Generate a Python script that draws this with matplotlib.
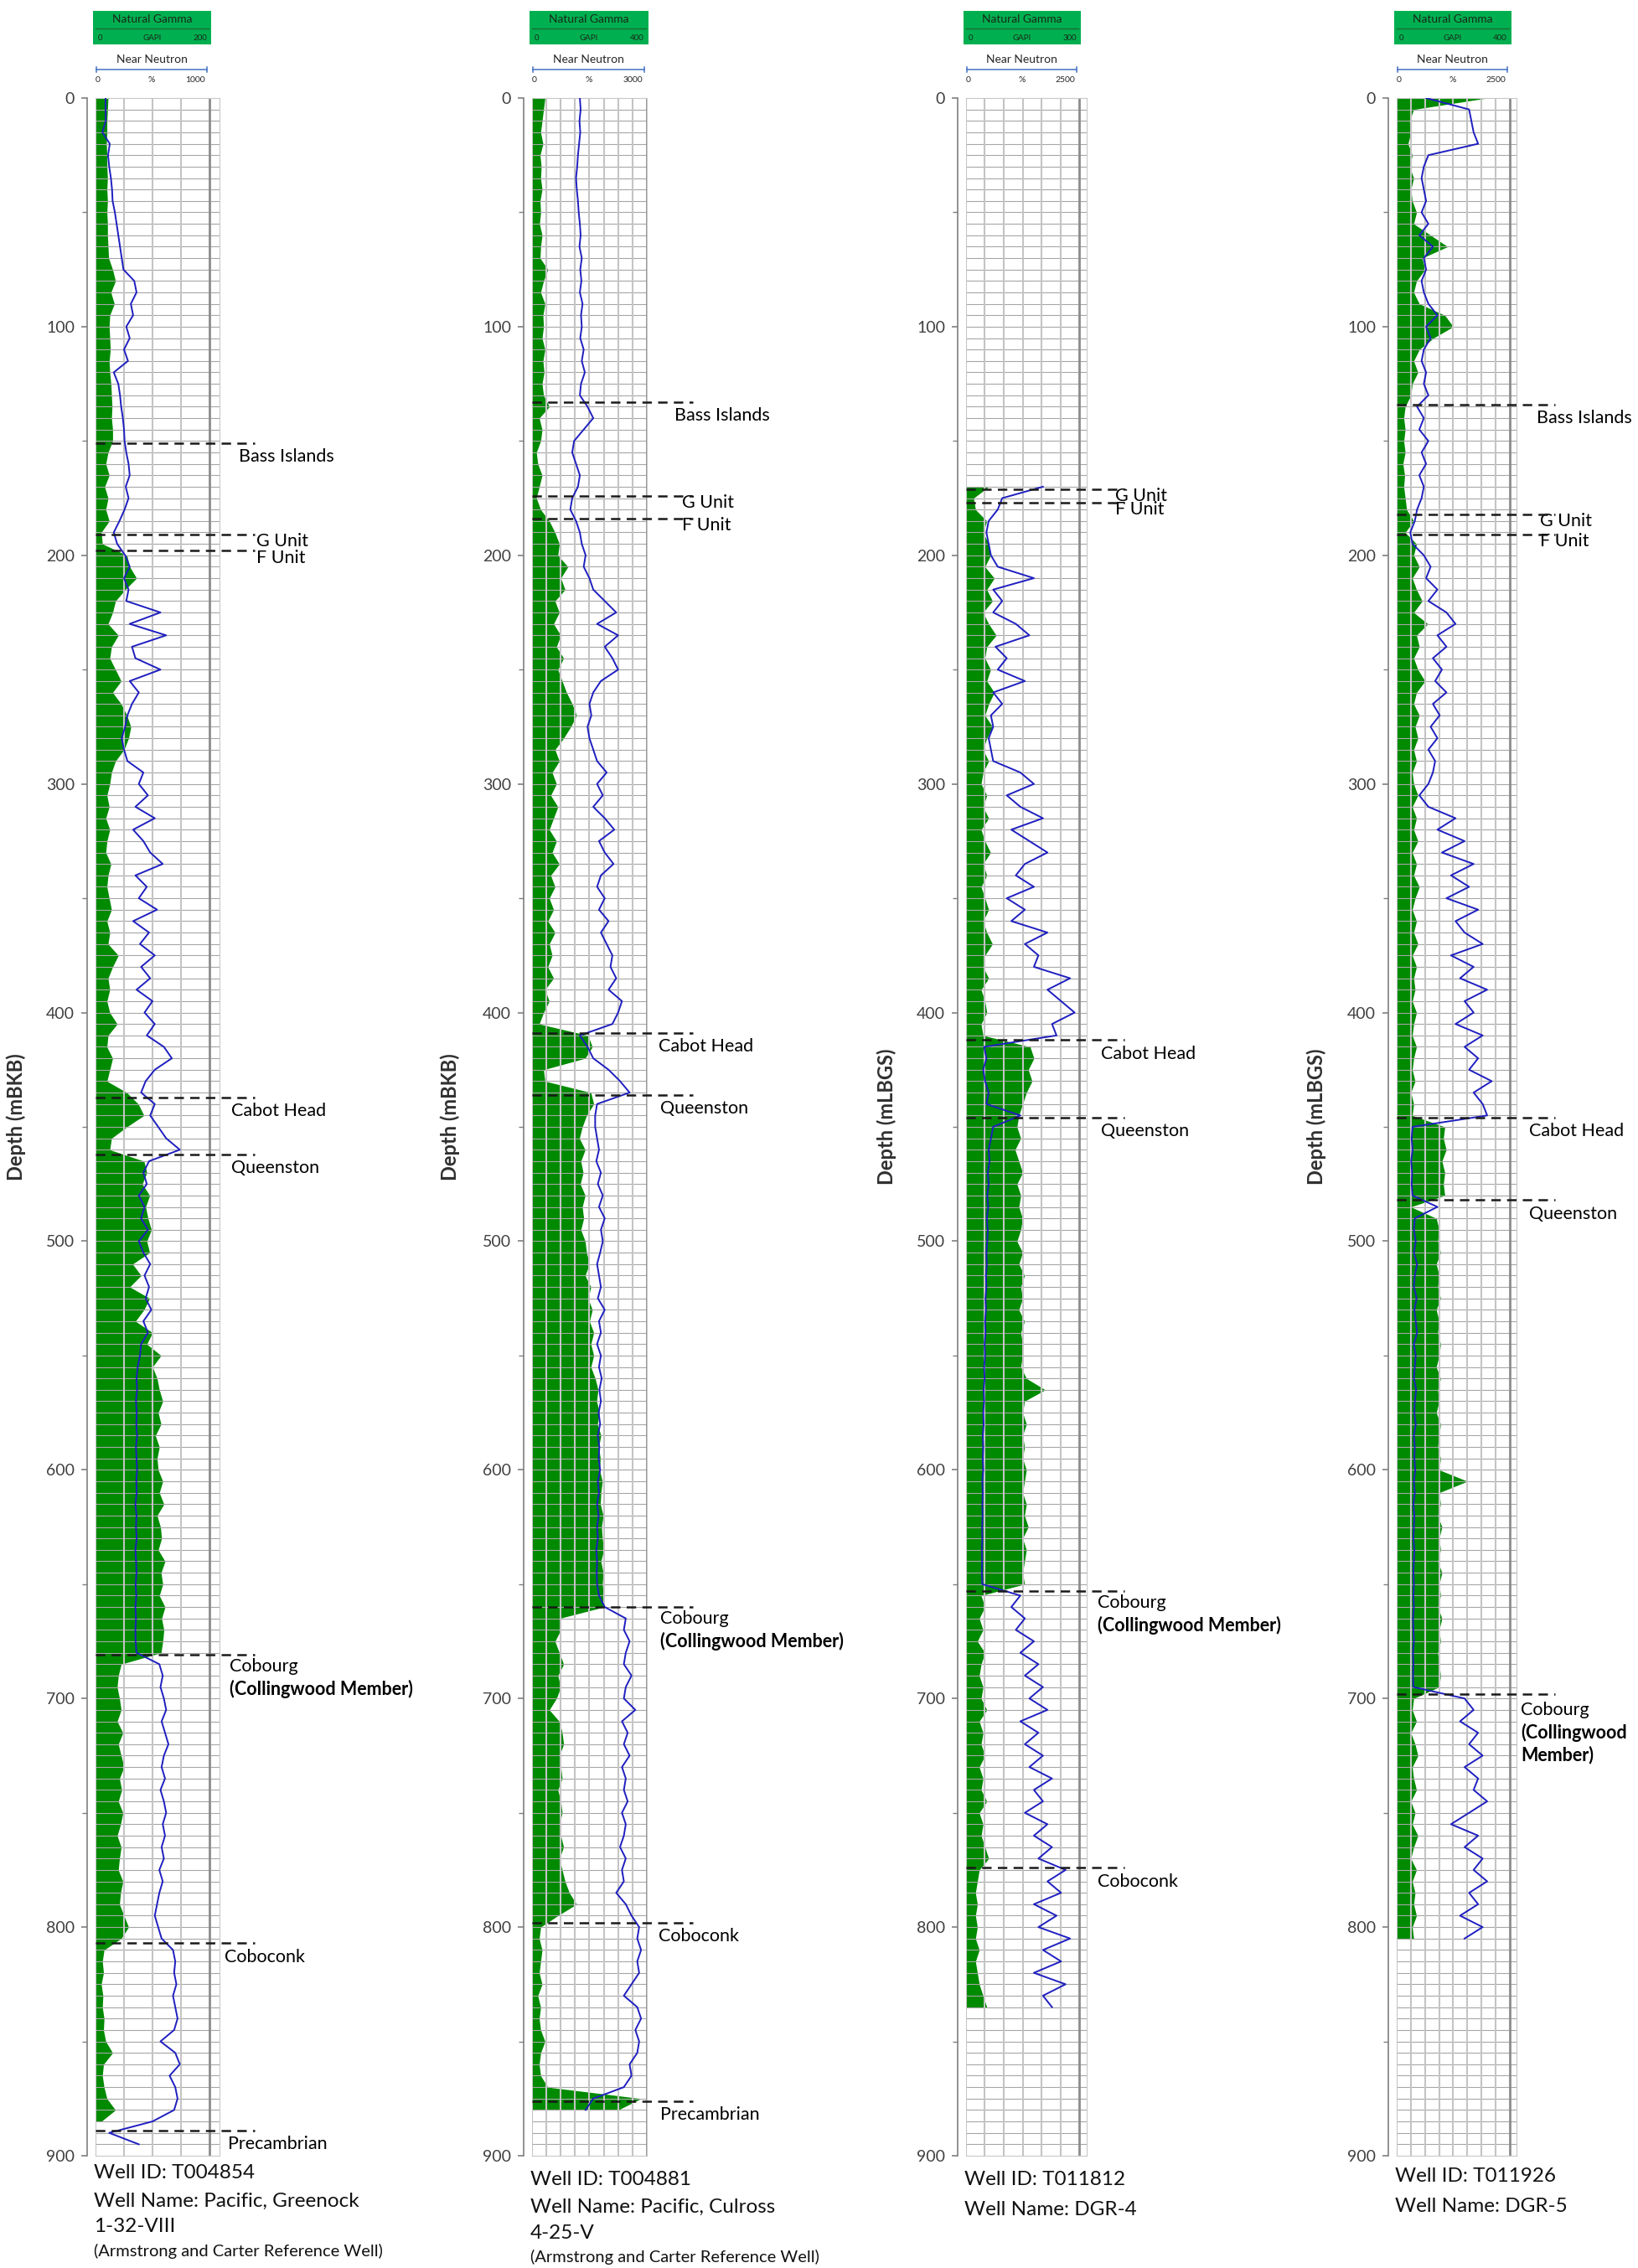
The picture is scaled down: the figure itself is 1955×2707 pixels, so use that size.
import numpy as np
import matplotlib
matplotlib.use('Agg')
import matplotlib.pyplot as plt
from matplotlib.patches import Rectangle

plt.rcParams['font.family'] = ['Lato', 'DejaVu Sans']

W, H = 1956, 2707
TOP, BOT = 117, 2573      # pixel rows of 0 m and 900 m
STEP = 5                  # log sample spacing (m)

# ---------------- well 1 : T004854 (gamma 0-200 GAPI, neutron 0-1000) -------------
w1_gr_start = 0
w1_gr = [22, 21, 20, 20, 19, 20, 20, 21, 20, 21,
         20, 21, 21, 22, 23, 30, 35, 27, 33, 25,
         24, 25, 26, 24, 25, 27, 28, 29, 28, 30,
         30, 22, 18, 24, 16, 22, 18, 24, 10, 12,
         55, 60, 72, 52, 35, 30, 22, 40, 28, 25,
         35, 45, 30, 45, 55, 62, 58, 50, 35, 28,
         25, 20, 24, 18, 25, 20, 18, 27, 22, 20,
         24, 28, 20, 25, 22, 40, 30, 22, 25, 20,
         25, 38, 22, 20, 30, 25, 20, 55, 75, 85,
         55, 28, 25, 85, 90, 82, 95, 88, 92, 98,
         90, 95, 65, 80, 60, 95, 85, 70, 100, 90,
         115, 100, 108, 112, 118, 110, 115, 105, 112, 108,
         110, 118, 112, 120, 108, 114, 116, 110, 122, 115,
         118, 112, 122, 116, 120, 118, 115, 45, 40, 38,
         42, 45, 38, 48, 40, 45, 50, 42, 46, 40,
         48, 44, 38, 45, 42, 40, 48, 44, 42, 50,
         58, 45, 15, 12, 14, 10, 13, 12, 15, 14,
         18, 30, 14, 12, 15, 20, 35, 10]
w1_nn_start = 0
w1_nn = [88, 88, 90, 60, 125, 110, 120, 135, 145, 150,
         170, 185, 200, 215, 230, 245, 340, 360, 310, 330,
         270, 300, 250, 285, 160, 200, 215, 225, 240, 250,
         255, 270, 290, 300, 265, 290, 255, 210, 160, 190,
         260, 300, 250, 290, 270, 570, 300, 620, 320, 350,
         570, 300, 380, 320, 280, 260, 230, 250, 280, 420,
         380, 460, 350, 520, 330, 420, 480, 590, 350, 450,
         380, 540, 330, 470, 390, 520, 400, 480, 360, 500,
         430, 520, 450, 600, 670, 520, 440, 400, 520, 480,
         550, 620, 740, 470, 420, 450, 380, 430, 400, 460,
         380, 420, 480, 430, 470, 440, 490, 420, 460, 400,
         390, 370, 360, 365, 355, 362, 358, 365, 355, 360,
         365, 358, 362, 350, 360, 355, 362, 350, 356, 360,
         352, 358, 350, 355, 350, 352, 360, 560, 590, 570,
         600, 620, 580, 610, 640, 600, 580, 610, 570, 600,
         620, 590, 610, 580, 600, 560, 590, 560, 540, 520,
         550, 580, 680, 700, 690, 710, 680, 700, 720, 690,
         570, 700, 740, 650, 700, 720, 690, 500, 120, 380]
w1_tops = ['Bass Islands', 'G Unit', 'F Unit', 'Cabot Head', 'Queenston',
           'Cobourg', 'Coboconk', 'Precambrian']
w1_top_depth = [151, 191, 198, 437, 462, 681, 807, 889]

# ---------------- well 2 : T004881 (gamma 0-400, neutron 0-3000) -------------
w2_gr_start = 0
w2_gr = [45, 40, 35, 30, 38, 28, 32, 30, 35, 28,
         30, 26, 35, 30, 28, 55, 40, 30, 45, 38,
         40, 35, 45, 38, 42, 35, 40, 60, 25, 35,
         30, 15, 20, 35, 25, 15, 30, 60, 80, 95,
         90, 125, 100, 115, 80, 95, 75, 100, 85, 110,
         90, 105, 120, 140, 155, 135, 110, 80, 95, 70,
         85, 65, 90, 75, 60, 85, 70, 95, 65, 80,
         60, 75, 55, 80, 60, 70, 55, 75, 45, 60,
         40, 25, 195, 210, 185, 40, 45, 205, 215, 190,
         175, 165, 185, 170, 178, 168, 185, 175, 180, 170,
         185, 190, 200, 185, 205, 195, 210, 200, 215, 205,
         215, 205, 220, 230, 225, 235, 228, 240, 232, 238,
         235, 245, 240, 238, 248, 242, 245, 250, 240, 248,
         245, 250, 250, 95, 100, 80, 95, 110, 90, 100,
         85, 60, 95, 105, 110, 95, 100, 105, 90, 100,
         105, 95, 100, 110, 95, 105, 115, 130, 155, 90,
         30, 25, 35, 30, 25, 35, 20, 30, 25, 30,
         45, 30, 25, 30, 55, 380, 300]
w2_nn_start = 0
w2_nn = [1250, 1270, 1240, 1260, 1230, 1200, 1180, 1150, 1170, 1200,
         1220, 1250, 1270, 1240, 1300, 1260, 1290, 1250, 1320, 1280,
         1300, 1260, 1350, 1300, 1380, 1280, 1250, 1450, 1600, 1350,
         1100, 1050, 1150, 1250, 1200, 1050, 1000, 1150, 1250, 1300,
         1400, 1350, 1500, 1600, 1900, 2200, 1700, 2250, 1900, 2100,
         2250, 1800, 1600, 1500, 1550, 1450, 1500, 1600, 1700, 1950,
         1700, 1850, 1600, 1900, 2150, 1750, 1900, 2130, 1800, 1700,
         1900, 1750, 2000, 1800, 1950, 2100, 2050, 2200, 2000, 2350,
         2250, 2100, 1250, 1450, 1600, 2000, 2300, 2550, 1700, 1650,
         1650, 1700, 1750, 1680, 1800, 1720, 1850, 1750, 1900, 1800,
         1850, 1780, 1700, 1750, 1800, 1720, 1900, 1750, 1800, 1700,
         1800, 1750, 1820, 1760, 1800, 1740, 1780, 1720, 1760, 1740,
         1780, 1720, 1750, 1700, 1740, 1700, 1720, 1680, 1700, 1690,
         1700, 1750, 1900, 2450, 2400, 2550, 2450, 2400, 2600, 2450,
         2400, 2700, 2350, 2500, 2400, 2550, 2350, 2450, 2400, 2500,
         2350, 2450, 2400, 2300, 2450, 2350, 2400, 2200, 2450, 2600,
         2800, 2750, 2850, 2750, 2800, 2600, 2400, 2750, 2850, 2700,
         2800, 2750, 2550, 2600, 2400, 1600, 1400]
w2_tops = ['Bass Islands', 'G Unit', 'F Unit', 'Cabot Head', 'Queenston',
           'Cobourg', 'Coboconk', 'Precambrian']
w2_top_depth = [133, 174, 184, 409, 436, 660, 798, 876]

# ---------------- well 3 : T011812 DGR-4 (gamma 0-300, neutron 0-2500) -------------
w3_gr_start = 170
w3_gr = [60, 20, 25, 55, 45, 60,
         65, 50, 75, 55, 70, 45, 60, 80, 55, 50,
         65, 55, 75, 60, 50, 70, 55, 45, 60, 45,
         40, 55, 45, 60, 40, 50, 65, 45, 55, 40,
         50, 60, 45, 55, 70, 50, 45, 60, 40, 50,
         55, 40, 45, 170, 180, 165, 175, 160, 150, 140,
         135, 145, 130, 140, 150, 135, 145, 140, 150, 145,
         135, 150, 140, 155, 145, 150, 140, 155, 145, 150,
         150, 145, 160, 210, 155, 150, 160, 150, 155, 150,
         160, 155, 150, 160, 155, 165, 150, 160, 155, 150,
         155, 40, 50, 35, 45, 30, 50, 40, 35, 45,
         40, 55, 35, 45, 40, 50, 35, 45, 40, 55,
         35, 45, 40, 50, 60, 35, 30, 25, 30, 25,
         30, 25, 35, 25, 30, 35, 45, 55]
w3_nn_start = 170
w3_nn = [1700, 800, 700, 500, 450, 500,
         550, 700, 1500, 600, 800, 600, 1100, 1400, 650, 900,
         700, 1300, 600, 800, 550, 600, 500, 550, 600, 1200,
         1500, 900, 1200, 1700, 1000, 1400, 1800, 1300, 1100, 1500,
         900, 1300, 1000, 1800, 1300, 1600, 1500, 2300, 1800, 2100,
         2400, 1900, 2000, 400, 450, 380, 420, 500, 450, 1200,
         600, 550, 500, 520, 480, 500, 470, 490, 460, 480,
         470, 450, 460, 440, 450, 430, 440, 420, 430, 410,
         420, 400, 410, 390, 400, 380, 390, 370, 380, 370,
         380, 360, 370, 360, 365, 355, 360, 350, 355, 350,
         360, 1200, 1000, 1300, 1100, 1500, 1200, 1600, 1300, 1700,
         1400, 1800, 1200, 1600, 1300, 1700, 1400, 1900, 1500, 1700,
         1300, 1800, 1500, 1900, 1600, 2200, 1800, 2100, 1500, 2000,
         1600, 2300, 1700, 2100, 1500, 2200, 1700, 1900]
w3_tops = ['G Unit', 'F Unit', 'Cabot Head', 'Queenston', 'Cobourg', 'Coboconk']
w3_top_depth = [171, 177, 412, 446, 653, 774]

# ---------------- well 4 : T011926 DGR-5 (gamma 0-400, neutron 0-2500) -------------
w4_gr_start = 0
w4_gr = [320, 60, 45, 50, 40, 55, 45, 60, 50, 55,
         70, 60, 120, 180, 90, 100, 70, 60, 80, 170,
         200, 130, 80, 60, 75, 55, 50, 30, 25, 30,
         25, 30, 22, 28, 25, 30, 35, 60, 30, 70,
         60, 80, 55, 70, 90, 60, 110, 70, 80, 60,
         75, 100, 70, 60, 80, 65, 75, 60, 70, 55,
         60, 75, 55, 70, 60, 75, 55, 70, 60, 80,
         65, 55, 70, 60, 75, 55, 70, 60, 65, 55,
         70, 60, 55, 70, 60, 55, 65, 50, 60, 55,
         170, 165, 175, 160, 170, 165, 170, 50, 140, 150,
         145, 155, 140, 150, 145, 155, 140, 150, 145, 155,
         150, 140, 155, 145, 150, 140, 155, 150, 145, 155,
         150, 250, 150, 155, 145, 160, 150, 155, 145, 160,
         150, 155, 145, 160, 150, 155, 145, 150, 155, 150,
         60, 55, 70, 50, 65, 75, 55, 60, 70, 50,
         65, 55, 75, 60, 50, 70, 55, 65, 60, 70,
         55, 60]
w4_nn_start = 0
w4_nn = [650, 1600, 1650, 1700, 1800, 700, 600, 550, 600, 650,
         550, 700, 500, 800, 600, 650, 550, 600, 700, 900,
         650, 750, 600, 550, 650, 600, 700, 450, 600, 500,
         700, 550, 650, 500, 600, 550, 450, 400, 300, 350,
         600, 750, 650, 900, 700, 1100, 1300, 900, 1100, 800,
         1000, 850, 1100, 800, 950, 750, 900, 700, 850, 800,
         700, 500, 700, 1300, 900, 1500, 1000, 1700, 1200, 1600,
         1100, 1800, 1300, 1500, 1900, 1200, 1700, 1400, 2000, 1500,
         1700, 1300, 1900, 1500, 1800, 1600, 2100, 1700, 1900, 2000,
         350, 330, 350, 320, 340, 330, 350, 900, 400, 380,
         420, 380, 450, 400, 380, 440, 390, 420, 450, 380,
         420, 400, 380, 430, 400, 390, 420, 380, 400, 390,
         410, 380, 400, 370, 390, 380, 370, 390, 380, 370,
         380, 370, 380, 360, 370, 380, 360, 370, 360, 370,
         1500, 1700, 1400, 1800, 1600, 1900, 1500, 1800, 1700, 2000,
         1600, 1200, 1800, 1500, 1900, 1700, 2000, 1600, 1800, 1400,
         1900, 1500]
w4_tops = ['Bass Islands', 'G Unit', 'F Unit', 'Cabot Head', 'Queenston', 'Cobourg']
w4_top_depth = [134, 182, 191, 446, 482, 698]

gr_max = [200, 400, 300, 400]
nn_max = [1000, 3000, 2500, 2500]
depth_units = ['mBKB', 'mBKB', 'mLBGS', 'mLBGS']
well_text = [['Well ID: T004854', 'Well Name: Pacific, Greenock', '1-32-VIII',
              '(Armstrong and Carter Reference Well)'],
             ['Well ID: T004881', 'Well Name: Pacific, Culross', '4-25-V',
              '(Armstrong and Carter Reference Well)'],
             ['Well ID: T011812', 'Well Name: DGR-4'],
             ['Well ID: T011926', 'Well Name: DGR-5']]

# ---------------- layout (pixels) ----------------
# track left edge, track right edge, full-scale column, number of grid columns
tracks = [(114, 262, 250, 4), (635, 772, 772, 8), (1153, 1297, 1288, 6), (1667, 1810, 1802, 8)]
ylabel_x = [31, 549, 1070, 1583]
text_y = [[2593, 2627, 2658, 2687], [2601, 2634, 2666, 2694], [2601, 2637], [2598, 2634]]
# label x (fraction of full scale) for each top
lab_x = [[1.26, 1.41, 1.41, 1.19, 1.19, 1.18, 1.13, 1.16],
         [1.24, 1.31, 1.31, 1.10, 1.12, 1.12, 1.10, 1.12],
         [1.32, 1.32, 1.19, 1.19, 1.16, 1.16],
         [1.24, 1.27, 1.27, 1.17, 1.17, 1.10]]

GREEN = '#008a00'
BLUE = '#1f1fc0'
HEAD = '#00b050'
FS = 15.5

fig = plt.figure(figsize=(W / 100, H / 100), dpi=100)
ov = fig.add_axes([0, 0, 1, 1])
ov.set_xlim(0, W)
ov.set_ylim(H, 0)
ov.axis('off')

wells = [(w1_gr_start, w1_gr, w1_nn_start, w1_nn, w1_tops, w1_top_depth),
         (w2_gr_start, w2_gr, w2_nn_start, w2_nn, w2_tops, w2_top_depth),
         (w3_gr_start, w3_gr, w3_nn_start, w3_nn, w3_tops, w3_top_depth),
         (w4_gr_start, w4_gr, w4_nn_start, w4_nn, w4_tops, w4_top_depth)]

for i, (gs, gr, ns, nn, tops, tdep) in enumerate(wells):
    x0, x1, full, ncol = tracks[i]
    ax = fig.add_axes([x0 / W, 1 - BOT / H, (x1 - x0) / W, (BOT - TOP) / H])
    xmax = (x1 - x0) / (full - x0)
    ax.set_xlim(0, xmax)
    ax.set_ylim(900, 0)

    gd = gs + STEP * np.arange(len(gr))
    nd = ns + STEP * np.arange(len(nn))
    ax.fill_betweenx(gd, 0, np.array(gr) / gr_max[i], color=GREEN, lw=0, zorder=1)
    ax.plot(np.array(nn) / nn_max[i], nd, color=BLUE, lw=1.4, zorder=4)

    # grid
    ax.hlines(np.arange(5, 900, 5), 0, xmax, color='#a6a6a6', lw=0.8, zorder=2)
    for k in range(ncol + 1):
        ax.axvline(k / ncol, color='#8c8c8c' if k == ncol else '#c4c4c4',
                   lw=2.0 if k == ncol else 1.5, zorder=2)
    for s in ['top', 'bottom', 'right']:
        ax.spines[s].set_color('#c8c8c8')
    ax.spines['left'].set_position(('outward', 7))
    ax.spines['left'].set_color('#7f7f7f')
    ax.spines['left'].set_linewidth(1.2)
    ax.set_xticks([])
    ax.set_yticks(np.arange(0, 901, 100))
    ax.set_yticks(np.arange(50, 900, 100), minor=True)
    ax.tick_params(axis='y', which='major', labelsize=14, labelcolor='#404040',
                   color='#7f7f7f', length=5, width=1.2, pad=6)
    ax.tick_params(axis='y', which='minor', color='#7f7f7f', length=4, width=1.0)
    ax.set_ylabel(f'Depth ({depth_units[i]})', fontsize=17, fontweight='bold', color='#303030')
    ax.yaxis.set_label_coords((ylabel_x[i] - x0) / (x1 - x0), 0.505)

    # formation tops
    for j, (name, d) in enumerate(zip(tops, tdep)):
        ax.plot([0, 1.40], [d, d], color='#1a1a1a', lw=1.8, ls=(0, (4.5, 3)),
                clip_on=False, zorder=6)
        if name == 'Cobourg':
            if i == 3:
                ax.text(lab_x[i][j], d + 7, 'Cobourg', fontsize=FS, va='center', clip_on=False)
                ax.text(lab_x[i][j], d + 17, '(Collingwood', fontsize=FS, fontweight='bold',
                        va='center', clip_on=False)
                ax.text(lab_x[i][j], d + 26.5, 'Member)', fontsize=FS, fontweight='bold',
                        va='center', clip_on=False)
            else:
                ax.text(lab_x[i][j], d + 5, 'Cobourg', fontsize=FS, va='center', clip_on=False)
                ax.text(lab_x[i][j], d + 15, '(Collingwood Member)', fontsize=FS,
                        fontweight='bold', va='center', clip_on=False)
        elif name in ('G Unit', 'F Unit'):
            ax.text(lab_x[i][j], d + 3, name, fontsize=FS, va='center', clip_on=False)
        else:
            ax.text(lab_x[i][j], d + 6, name, fontsize=FS, va='center', clip_on=False)

    # header: natural gamma box and near neutron scale
    bx0, bx1 = x0 - 3, full + 2
    ov.add_patch(Rectangle((bx0, 13), bx1 - bx0, 40, color=HEAD, lw=0))
    ov.plot([bx0 + 3, bx1 - 3], [34, 34], color='#1d6b35', lw=1.0)
    ov.text((bx0 + bx1) / 2, 23, 'Natural Gamma', ha='center', va='center',
            fontsize=10, color='#1a2a1a')
    ov.text(bx0 + 6, 46, '0', ha='left', va='center', fontsize=7, color='#1a2a1a')
    ov.text((bx0 + bx1) / 2, 46, 'GAPI', ha='center', va='center', fontsize=7, color='#1a2a1a')
    ov.text(bx1 - 5, 46, str(gr_max[i]), ha='right', va='center', fontsize=7, color='#1a2a1a')
    nx0, nx1 = x0 + 1, full - 3
    ov.text((nx0 + nx1) / 2, 71, 'Near Neutron', ha='center', va='center',
            fontsize=10, color='#262626')
    ov.plot([nx0, nx1], [83, 83], color='#4472c4', lw=1.1)
    ov.plot([nx0, nx0], [80, 86], color='#4472c4', lw=1.1)
    ov.plot([nx1, nx1], [80, 86], color='#4472c4', lw=1.1)
    ov.text(nx0 + 2, 95, '0', ha='center', va='center', fontsize=7.5, color='#262626')
    ov.text((nx0 + nx1) / 2, 95, '%', ha='center', va='center', fontsize=7.5, color='#262626')
    ov.text(nx1 - 2, 95, str(nn_max[i]), ha='right', va='center', fontsize=7.5, color='#262626')

    # well labels
    for t, y in zip(well_text[i], text_y[i]):
        small = t.startswith('(')
        ov.text(x0 - 2, y, t, ha='left', va='center', fontsize=14.5 if small else 17.5,
                color='#111111')

fig.savefig('out.png', dpi=100)
